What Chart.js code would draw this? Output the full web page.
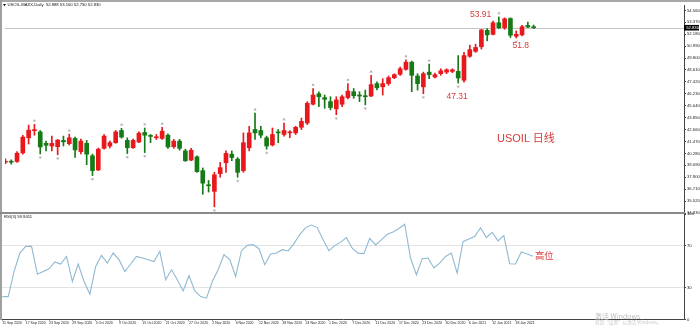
<!DOCTYPE html>
<html>
<head>
<meta charset="utf-8">
<script src="https://cdn.jsdelivr.net/npm/chart.js"></script>
<style>
html,body{margin:0;padding:0;background:#fff;}
#wrap{position:relative;width:700px;height:328px;overflow:hidden;background:#fff;}
canvas{position:absolute;left:0;}
#c1{top:0;}
#c2{top:208px;}
.ln{position:absolute;}
.note{position:absolute;color:#d63a3a;font-family:"Liberation Sans",Arial,"Noto Sans CJK SC",sans-serif;white-space:nowrap;line-height:1;}
</style>
</head>
<body>
<div id="wrap">
<canvas id="c1" width="700" height="218"></canvas>
<canvas id="c2" width="700" height="120"></canvas>
<div class="ln" style="left:0;top:0;width:700px;height:2px;background:#a8a8a8"></div>
<div class="ln" style="left:0;top:0;width:2px;height:320px;background:#a0a0a0"></div>
<div class="ln" style="left:0;top:212px;width:685px;height:2px;background:#8a8a8a"></div>
<div class="note" style="left:470px;top:10px;font-size:8.5px">53.91</div>
<div class="note" style="left:512.5px;top:41px;font-size:8.5px">51.8</div>
<div class="note" style="left:446.5px;top:92px;font-size:8.5px">47.31</div>
<div class="note" style="left:497px;top:132.5px;font-size:11px">USOIL 日线</div>
<div class="note" style="left:535px;top:252px;font-size:9.3px">高位</div>
</div>
<script>
const dates = [
"11 Sep 2020","14 Sep 2020","15 Sep 2020","16 Sep 2020","17 Sep 2020","18 Sep 2020","21 Sep 2020","22 Sep 2020","23 Sep 2020","24 Sep 2020","25 Sep 2020","28 Sep 2020","29 Sep 2020","30 Sep 2020",
"1 Oct 2020","2 Oct 2020","5 Oct 2020","6 Oct 2020","7 Oct 2020","8 Oct 2020","9 Oct 2020","12 Oct 2020","13 Oct 2020","14 Oct 2020","15 Oct 2020","16 Oct 2020","19 Oct 2020","20 Oct 2020","21 Oct 2020","22 Oct 2020","23 Oct 2020","26 Oct 2020","27 Oct 2020","28 Oct 2020","29 Oct 2020","30 Oct 2020",
"2 Nov 2020","3 Nov 2020","4 Nov 2020","5 Nov 2020","6 Nov 2020","9 Nov 2020","10 Nov 2020","11 Nov 2020","12 Nov 2020","13 Nov 2020","16 Nov 2020","17 Nov 2020","18 Nov 2020","19 Nov 2020","20 Nov 2020","23 Nov 2020","24 Nov 2020","25 Nov 2020","27 Nov 2020","30 Nov 2020",
"1 Dec 2020","2 Dec 2020","3 Dec 2020","4 Dec 2020","7 Dec 2020","8 Dec 2020","9 Dec 2020","10 Dec 2020","11 Dec 2020","14 Dec 2020","15 Dec 2020","16 Dec 2020","17 Dec 2020","18 Dec 2020","21 Dec 2020","22 Dec 2020","23 Dec 2020","24 Dec 2020","28 Dec 2020","29 Dec 2020","30 Dec 2020","31 Dec 2020",
"4 Jan 2021","5 Jan 2021","6 Jan 2021","7 Jan 2021","8 Jan 2021","11 Jan 2021","12 Jan 2021","13 Jan 2021","14 Jan 2021","15 Jan 2021","18 Jan 2021","19 Jan 2021","20 Jan 2021","21 Jan 2021"];

const open = [
39.40,39.45,39.47,40.33,41.84,42.55,42.43,41.29,41.02,40.95,
41.58,41.25,41.78,40.46,41.29,40.04,38.63,40.79,41.02,41.35,
42.57,41.58,40.85,41.42,42.37,42.07,41.84,41.78,42.10,40.95,
41.51,40.53,39.61,39.94,38.56,37.15,36.49,38.26,39.35,40.20,
39.71,38.56,40.85,42.67,42.57,41.84,41.12,42.43,42.17,42.33,
42.33,42.89,43.32,45.19,46.24,45.85,45.45,44.73,45.19,45.85,
46.44,46.11,46.04,46.01,47.25,46.93,47.25,47.84,48.18,48.67,
49.39,48.01,46.93,48.40,47.91,48.24,48.40,48.47,48.47,47.59,
49.98,50.47,50.93,52.57,52.17,53.33,52.83,53.75,51.98,52.12,
53.06,52.888];
const high = [
39.74,39.64,40.46,42.08,43.11,43.19,42.57,41.51,42.01,41.68,
42.01,42.20,41.91,41.71,41.58,40.21,40.82,42.17,41.51,42.57,
42.79,41.84,41.71,42.43,42.82,42.17,42.17,42.89,42.23,41.68,
41.68,40.70,40.79,40.04,38.83,37.58,38.39,39.38,40.53,40.53,
39.87,42.33,42.99,44.30,42.99,42.01,42.82,42.67,43.32,42.57,
42.99,43.81,45.45,46.76,46.44,46.11,45.94,45.94,46.11,47.25,
46.76,46.44,46.60,48.08,47.42,47.74,48.01,48.24,48.90,49.62,
49.50,48.24,48.40,49.19,48.30,48.73,48.73,48.73,50.05,50.37,
51.09,51.19,52.67,52.74,53.49,53.91,53.82,53.82,52.51,53.06,
53.40,53.10];
const low = [
39.25,39.20,39.38,40.21,41.22,42.10,40.23,40.53,40.53,40.14,
41.02,41.12,39.87,40.23,39.15,38.07,38.56,40.70,40.82,41.29,
41.81,40.26,40.79,41.35,40.36,41.35,41.68,41.68,40.79,40.79,
40.60,39.48,39.55,38.39,36.20,36.42,34.95,37.90,38.39,39.55,
37.90,38.39,40.53,41.68,41.84,40.70,41.02,41.35,42.01,41.84,
42.17,42.66,43.16,45.13,44.96,44.79,44.63,44.14,44.96,45.72,
45.78,45.45,45.13,45.94,46.63,46.11,47.09,47.74,48.08,48.60,
46.44,46.60,46.24,47.74,47.81,48.08,48.24,48.34,47.31,47.40,
49.88,50.37,50.70,51.52,52.12,52.73,52.67,51.85,51.80,52.02,
52.83,52.75];
const close = [
39.50,39.40,40.30,41.91,42.60,42.65,40.92,41.09,41.29,41.61,
41.44,41.84,40.63,41.51,40.21,38.56,40.70,42.01,41.35,42.43,
41.91,40.85,41.58,42.30,42.10,41.98,41.94,42.50,40.92,41.51,
40.79,39.55,40.60,38.46,37.31,37.05,38.14,38.86,40.28,39.87,
38.39,41.35,42.33,42.33,42.10,41.02,42.17,42.33,42.57,42.43,
42.89,43.48,45.28,46.11,45.94,45.68,44.86,45.62,45.94,46.50,
46.04,46.01,45.94,47.15,46.83,47.25,47.84,48.14,48.73,49.39,
48.08,47.25,48.24,48.14,48.14,48.53,48.63,48.63,47.81,50.05,
50.64,50.86,52.61,52.12,53.33,52.83,53.72,52.08,52.17,52.93,
52.90,52.83];
const rsi = [
21.7,21.7,45.5,63.0,69.3,69.3,43.0,45.5,48.1,54.5,
52.6,59.8,36.0,52.6,36.0,24.0,50.3,60.8,53.5,63.0,
56.7,45.5,52.6,59.8,58.3,56.7,55.0,64.6,37.6,47.1,
37.6,27.1,41.7,27.1,21.7,20.2,36.0,47.1,61.4,56.7,
40.8,65.2,70.3,71.0,67.1,51.9,62.1,63.0,66.2,65.0,
71.9,80.5,87.1,89.5,87.1,75.7,65.2,70.0,73.3,77.6,
67.6,62.9,62.4,77.0,70.7,75.4,80.8,82.9,86.2,90.3,
58.3,42.4,57.6,58.3,48.8,53.5,59.8,63.0,44.0,73.8,
76.2,78.6,87.0,77.6,82.7,74.5,79.5,52.9,52.6,64.0,
62.1,59.9411];
const fractalUp = [5,11,20,24,27,43,48,53,59,63,69,73,85];
const fractalDown = [6,9,15,21,24,36,40,45,57,62,72,78,88];
const xTickIdx = [0,4,8,12,16,20,24,28,32,36,40,44,48,52,56,60,64,68,72,76,80,84,88];
const priceTicks = [54.56,53.37,52.18,50.99,49.80,48.61,47.42,46.23,45.04,43.85,42.66,41.47,40.28,39.09,37.90,36.71,35.52,34.33];
const rsiTicks = [0,30,70,100];
const symbolName = "USOIL.MAXX,Daily";
const rsiName = "RSI(3)";

const UP = '#e8181d', DN = '#167a16';
const XMIN = -0.07, XMAX = 116.9;
const idx = dates.map((d,i)=>i);
const last = dates.length - 1;
const bid = close[last];

function arrowImg(up){
  const c = document.createElement('canvas'); c.width = 4; c.height = 13;
  const g = c.getContext('2d'); g.fillStyle = '#8a8a8a'; g.beginPath();
  if(up){ g.moveTo(2,1.5); g.lineTo(3.5,3.5); g.lineTo(0.5,3.5); }
  else { g.moveTo(2,11.5); g.lineTo(3.5,9.5); g.lineTo(0.5,9.5); }
  g.closePath(); g.fill(); return c;
}

const overlay1 = {
  id:'overlay1',
  beforeDatasetsDraw(chart){
    const {ctx, chartArea:a, scales:{y}} = chart;
    const py = Math.round(y.getPixelForValue(bid)) + 0.5;
    ctx.save(); ctx.strokeStyle = '#c4c4c4'; ctx.lineWidth = 1;
    ctx.beginPath(); ctx.moveTo(a.left, py); ctx.lineTo(a.right, py); ctx.stroke(); ctx.restore();
  },
  afterDraw(chart){
    const {ctx, chartArea:a, scales:{y}} = chart;
    const py = y.getPixelForValue(bid);
    ctx.save();
    ctx.fillStyle = '#000'; ctx.fillRect(a.right, py-2.8, 15, 5.6);
    ctx.fillStyle = '#fff'; ctx.font = '4.2px Arial'; ctx.textBaseline = 'middle';
    ctx.fillText(bid.toFixed(3), a.right+2.2, py+0.2);
    ctx.fillStyle = '#111';
    ctx.beginPath(); ctx.moveTo(3,4); ctx.lineTo(6,4); ctx.lineTo(4.5,6.2); ctx.closePath(); ctx.fill();
    ctx.font = '4.2px Arial';
    ctx.fillText(symbolName + '  ' + open[last].toFixed(3) + ' ' + high[last].toFixed(3) + ' ' + low[last].toFixed(3) + ' ' + close[last].toFixed(3), 7.5, 5.2);
    ctx.restore();
  }
};

new Chart(document.getElementById('c1'), {
  type:'bar',
  data:{ datasets:[
    { label:'body', data: idx.map(i=>({x:i, y:[open[i], close[i]]})),
      backgroundColor: idx.map(i=> close[i]>=open[i] ? UP : DN),
      barThickness:4, grouped:false, minBarLength:1, order:1 },
    { label:'wick', data: idx.map(i=>({x:i, y:[low[i], high[i]]})),
      backgroundColor: idx.map(i=> close[i]>=open[i] ? UP : DN),
      barThickness:1, grouped:false, order:2 },
    { type:'scatter', label:'fu', data: fractalUp.map(i=>({x:i, y:high[i]})),
      pointStyle: arrowImg(true), pointRadius:3, order:0 },
    { type:'scatter', label:'fd', data: fractalDown.map(i=>({x:i, y:low[i]})),
      pointStyle: arrowImg(false), pointRadius:3, order:0 }
  ]},
  options:{
    responsive:false, animation:false, events:[],
    layout:{ padding:{ left:2, top:2, right:0, bottom:5 } },
    plugins:{ legend:{display:false}, tooltip:{enabled:false} },
    scales:{
      x:{ type:'linear', display:false, min:XMIN, max:XMAX, offset:false },
      y:{ position:'right', min:34.33, max:55.10,
          afterFit(s){ s.width = 16; },
          afterBuildTicks(s){ s.ticks = priceTicks.map(v=>({value:v})); },
          ticks:{ callback:v=>Number(v).toFixed(3), font:{family:'Arial', size:4.2}, color:'#1a1a1a', padding:1, autoSkip:false },
          grid:{ drawOnChartArea:false, tickLength:2, color:'#444' },
          border:{ display:true, color:'#444', width:1 } }
    }
  },
  plugins:[overlay1]
});

const overlay2 = {
  id:'overlay2',
  afterDraw(chart){
    const {ctx} = chart;
    ctx.save();
    ctx.fillStyle = '#111'; ctx.font = '4.2px Arial'; ctx.textBaseline = 'middle';
    ctx.fillText(rsiName + ' ' + rsi[last].toFixed(4), 4, 9.2);
    ctx.fillStyle = '#bcbcbc'; ctx.font = '7px "Noto Sans CJK SC", Arial';
    ctx.fillText('激活 Windows', 595, 108.5);
    ctx.fillStyle = '#cacaca'; ctx.font = '4.6px "Noto Sans CJK SC", Arial';
    ctx.fillText('转到“设置”以激活 Windows。', 595, 114.5);
    ctx.restore();
  }
};

new Chart(document.getElementById('c2'), {
  type:'line',
  data:{ datasets:[
    { label:'rsi', data: idx.map(i=>({x:i, y:rsi[i]})), borderColor:'#8fb9d1', borderWidth:1.1,
      pointRadius:0, tension:0, fill:false }
  ]},
  options:{
    responsive:false, animation:false, events:[],
    layout:{ padding:{ left:2, top:6, right:0, bottom:0 } },
    plugins:{ legend:{display:false}, tooltip:{enabled:false} },
    scales:{
      x:{ type:'linear', min:XMIN, max:XMAX, offset:false,
          afterFit(s){ s.height = 8.5; },
          afterBuildTicks(s){ s.ticks = xTickIdx.map(v=>({value:v})); },
          ticks:{ callback:v=>dates[v], align:'start', maxRotation:0, minRotation:0, autoSkip:false,
                  font:{family:'Arial', size:3.5}, color:'#1a1a1a', padding:0 },
          grid:{ drawOnChartArea:false, tickLength:1, color:'#444' },
          border:{ display:true, color:'#444', width:1 } },
      y:{ position:'right', min:0, max:100,
          afterFit(s){ s.width = 16; },
          afterBuildTicks(s){ s.ticks = rsiTicks.map(v=>({value:v})); },
          ticks:{ callback:v=>String(v), font:{family:'Arial', size:4.2}, color:'#1a1a1a', padding:1, autoSkip:false },
          grid:{ color: c => (c.tick && (c.tick.value===30 || c.tick.value===70)) ? '#e3e3e3' : 'rgba(0,0,0,0)',
                 tickColor:'#444', tickLength:2 },
          border:{ display:true, color:'#444', width:1 } }
    }
  },
  plugins:[overlay2]
});
</script>
</body>
</html>
